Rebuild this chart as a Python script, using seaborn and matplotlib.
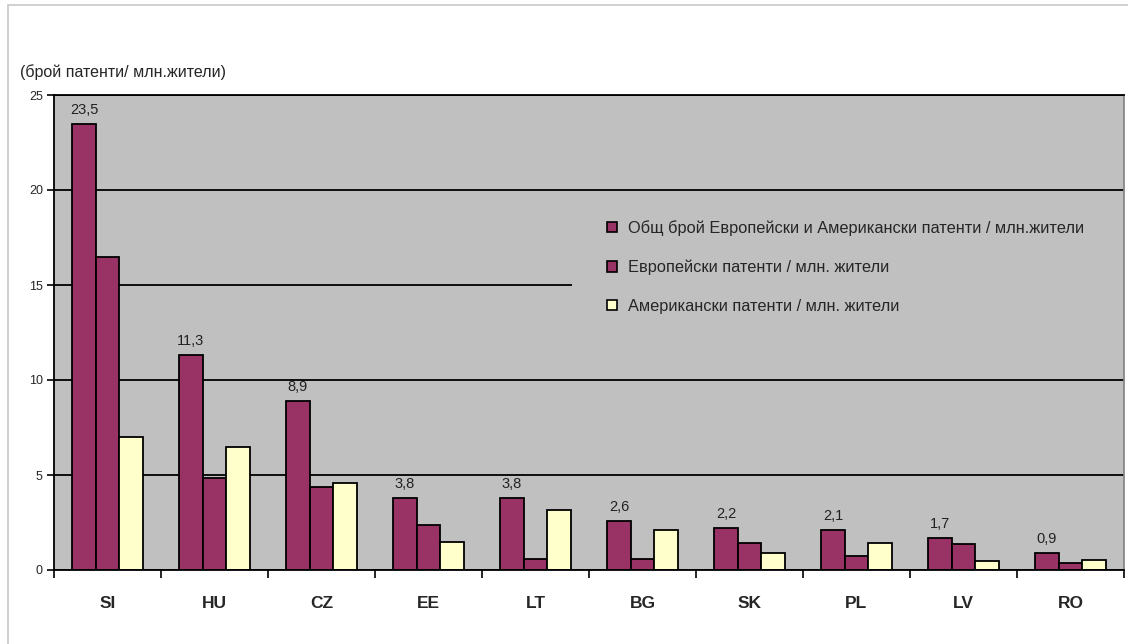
import matplotlib
matplotlib.use("Agg")
import matplotlib.pyplot as plt
import seaborn as sns
import pandas as pd
from matplotlib.patches import Patch, Rectangle

countries = ["SI", "HU", "CZ", "EE", "LT", "BG", "SK", "PL", "LV", "RO"]
total = [23.5, 11.3, 8.9, 3.8, 3.8, 2.6, 2.2, 2.1, 1.7, 0.9]
european = [16.5, 4.85, 4.35, 2.35, 0.6, 0.6, 1.4, 0.75, 1.35, 0.37]
american = [7.0, 6.5, 4.6, 1.5, 3.15, 2.1, 0.9, 1.4, 0.45, 0.55]
series_names = [
    "Общ брой Европейски и Американски патенти / млн.жители",
    "Европейски патенти / млн. жители",
    "Американски патенти / млн. жители",
]
ylabel_text = "(брой патенти/ млн.жители)"
colors = ["#993366", "#993366", "#FFFFCC"]

rows = []
for i, c in enumerate(countries):
    for name, vals in zip(series_names, [total, european, american]):
        rows.append({"country": c, "series": name, "value": vals[i]})
df = pd.DataFrame(rows)

sns.set_theme(style="white")
plt.rcParams["font.family"] = ["Liberation Sans", "DejaVu Sans"]

fig = plt.figure(figsize=(11.28, 6.44), dpi=100)
ax = fig.add_axes([54 / 1128, 74 / 644, 1070 / 1128, 475 / 644])
ax.set_facecolor("#C0C0C0")

sns.barplot(data=df, x="country", y="value", hue="series", palette=colors,
            saturation=1, width=0.66, edgecolor="black", linewidth=1.3, ax=ax,
            legend=False, order=countries, hue_order=series_names)

ax.set_ylim(0, 25)
ax.set_xlim(-0.5, len(countries) - 0.5)
ax.set_yticks([0, 5, 10, 15, 20, 25])
ax.yaxis.grid(True, color="black", linewidth=1.3)
ax.set_axisbelow(True)
ax.set_xlabel("")
ax.set_ylabel("")

ax.tick_params(axis="y", direction="out", length=5, width=1.2, color="black",
               labelsize=9, pad=3, left=True)
ax.tick_params(axis="x", which="major", length=0, labelsize=12.5, pad=19)
for lbl in ax.get_xticklabels():
    lbl.set_fontweight("bold")
ax.set_xticks([i - 0.5 for i in range(len(countries) + 1)], minor=True)
ax.tick_params(axis="x", which="minor", direction="out", length=6, width=1.2,
               color="black", bottom=True)

for side in ["left", "bottom", "top"]:
    ax.spines[side].set_color("black")
    ax.spines[side].set_linewidth(1.3)
ax.spines["right"].set_color("#808080")
ax.spines["right"].set_linewidth(1.2)

for bar, v in zip(ax.containers[0], total):
    ax.annotate(f"{v:.1f}".replace(".", ","),
                (bar.get_x() + bar.get_width() / 2, v),
                xytext=(0, 5), textcoords="offset points",
                ha="center", va="bottom", fontsize=10.5, color="#222222")

# legend background box (hides the gridline behind it, as in the original)
ax.add_patch(Rectangle(((572 - 54) / 1070, (570 - 340) / 475), 1.0, 140 / 475,
                       transform=ax.transAxes, facecolor="#C0C0C0",
                       edgecolor="none", zorder=0.8))

handles = [Patch(facecolor=c, edgecolor="black", linewidth=1.2) for c in colors]
leg = ax.legend(handles, series_names, loc="upper left",
                bbox_to_anchor=(607 / 1128, 1 - 220 / 644), bbox_transform=fig.transFigure,
                frameon=False, fontsize=11.8, handlelength=0.6, handleheight=0.6,
                handletextpad=0.7, labelspacing=1.45, borderpad=0, borderaxespad=0)

fig.text(20 / 1128, 1 - 72 / 644, ylabel_text, fontsize=11.5, va="center", ha="left")

fig.patches.append(Rectangle((8 / 1128, -0.01), 1.2, 1 - 5 / 644 + 0.01,
                             transform=fig.transFigure, fill=False,
                             edgecolor="#C8C8C8", linewidth=1.2))

fig.savefig("out.png", dpi=100)
